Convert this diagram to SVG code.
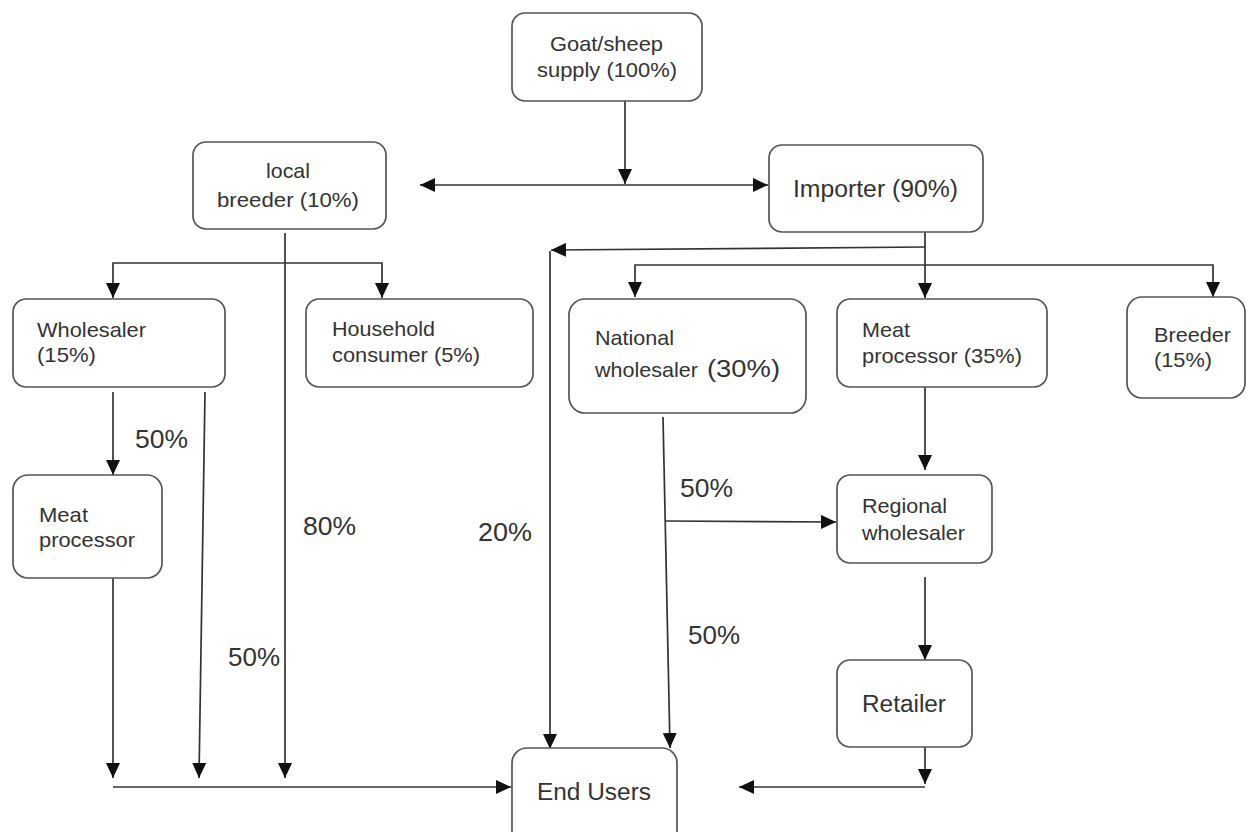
<svg xmlns="http://www.w3.org/2000/svg" width="1246" height="832" viewBox="0 0 1246 832">
  <style>
    .box { fill: #ffffff; stroke: #555555; stroke-width: 1.7; }
    .t { font-family: "Liberation Sans", Arial, sans-serif; font-size: 21px; fill: #333333; }
    .big { font-size: 23px; }
    .lbl { font-family: "Liberation Sans", Arial, sans-serif; font-size: 26px; fill: #333333; }
    .wire { fill: none; stroke: #333333; stroke-width: 1.7; }
  </style>
  <defs>
    <marker id="arrow" markerUnits="userSpaceOnUse" markerWidth="15" markerHeight="14" refX="15" refY="7" orient="auto-start-reverse">
      <path d="M0,0 L15,7 L0,14 Z" fill="#111111"/>
    </marker>
  </defs>
  <rect width="1246" height="832" fill="#ffffff"/>

  <!-- connectors -->
  <g id="connectors">
    <path class="wire" d="M625,101 V184" marker-end="url(#arrow)"/>
    <path class="wire" d="M420,185 H768" marker-start="url(#arrow)" marker-end="url(#arrow)"/>
    <path class="wire" d="M285,233 V778" marker-end="url(#arrow)"/>
    <path class="wire" d="M113,298 V263 H382 V298" marker-start="url(#arrow)" marker-end="url(#arrow)"/>
    <path class="wire" d="M113,392 V475" marker-end="url(#arrow)"/>
    <path class="wire" d="M205,392 L199,778" marker-end="url(#arrow)"/>
    <path class="wire" d="M113,578 V778" marker-end="url(#arrow)"/>
    <path class="wire" d="M113,787 H511" marker-end="url(#arrow)"/>
    <path class="wire" d="M925,232 V298" marker-end="url(#arrow)"/>
    <path class="wire" d="M925,247 L551,250" marker-end="url(#arrow)"/>
    <path class="wire" d="M550,251 V749" marker-end="url(#arrow)"/>
    <path class="wire" d="M635,297 V265 H1213 V297" marker-start="url(#arrow)" marker-end="url(#arrow)"/>
    <path class="wire" d="M663,417 L670,748" marker-end="url(#arrow)"/>
    <path class="wire" d="M666,521 L836,522" marker-end="url(#arrow)"/>
    <path class="wire" d="M925,387 V470" marker-end="url(#arrow)"/>
    <path class="wire" d="M925,577 V660" marker-end="url(#arrow)"/>
    <path class="wire" d="M925,747 V784" marker-end="url(#arrow)"/>
    <path class="wire" d="M925,787 H739" marker-end="url(#arrow)"/>
  </g>

  <!-- flow shares -->
  <g id="shares">
    <text class="lbl" x="135" y="448" textLength="53" lengthAdjust="spacingAndGlyphs">50%</text>
    <text class="lbl" x="303" y="535" textLength="53" lengthAdjust="spacingAndGlyphs">80%</text>
    <text class="lbl" x="228" y="666" textLength="52" lengthAdjust="spacingAndGlyphs">50%</text>
    <text class="lbl" x="478" y="541" textLength="54" lengthAdjust="spacingAndGlyphs">20%</text>
    <text class="lbl" x="680" y="497" textLength="53" lengthAdjust="spacingAndGlyphs">50%</text>
    <text class="lbl" x="688" y="644" textLength="52" lengthAdjust="spacingAndGlyphs">50%</text>
  </g>

  <g id="supply">
    <rect class="box" x="512" y="13" width="190" height="88" rx="13"/>
    <text class="t" x="550" y="51" textLength="113" lengthAdjust="spacingAndGlyphs">Goat/sheep</text>
    <text class="t" x="537" y="77" textLength="140" lengthAdjust="spacingAndGlyphs">supply (100%)</text>
  </g>

  <g id="local-breeder">
    <rect class="box" x="193" y="142" width="193" height="87" rx="13"/>
    <text class="t" x="266" y="178" textLength="44" lengthAdjust="spacingAndGlyphs">local</text>
    <text class="t" x="217" y="207" textLength="142" lengthAdjust="spacingAndGlyphs">breeder (10%)</text>
  </g>

  <g id="importer">
    <rect class="box" x="769" y="145" width="214" height="87" rx="13"/>
    <text class="t big" x="793" y="197" textLength="165" lengthAdjust="spacingAndGlyphs">Importer (90%)</text>
  </g>

  <g id="wholesaler">
    <rect class="box" x="13" y="299" width="212" height="88" rx="13"/>
    <text class="t" x="37" y="337" textLength="109" lengthAdjust="spacingAndGlyphs">Wholesaler</text>
    <text class="t" x="37" y="362" textLength="59" lengthAdjust="spacingAndGlyphs">(15%)</text>
  </g>

  <g id="household-consumer">
    <rect class="box" x="306" y="299" width="227" height="88" rx="13"/>
    <text class="t" x="332" y="336" textLength="103" lengthAdjust="spacingAndGlyphs">Household</text>
    <text class="t" x="332" y="362" textLength="148" lengthAdjust="spacingAndGlyphs">consumer (5%)</text>
  </g>

  <g id="national-wholesaler">
    <rect class="box" x="569" y="299" width="237" height="114" rx="16"/>
    <text class="t" x="595" y="345" textLength="79" lengthAdjust="spacingAndGlyphs">National</text>
    <text class="t" x="595" y="377" textLength="103" lengthAdjust="spacingAndGlyphs">wholesaler</text>
    <text class="t big" x="707" y="377" textLength="73" lengthAdjust="spacingAndGlyphs">(30%)</text>
  </g>

  <g id="meat-processor-35">
    <rect class="box" x="837" y="299" width="210" height="88" rx="13"/>
    <text class="t" x="862" y="337" textLength="48" lengthAdjust="spacingAndGlyphs">Meat</text>
    <text class="t" x="862" y="363" textLength="160" lengthAdjust="spacingAndGlyphs">processor (35%)</text>
  </g>

  <g id="breeder">
    <rect class="box" x="1127" y="297" width="118" height="101" rx="15"/>
    <text class="t" x="1154" y="342" textLength="77" lengthAdjust="spacingAndGlyphs">Breeder</text>
    <text class="t" x="1154" y="367" textLength="58" lengthAdjust="spacingAndGlyphs">(15%)</text>
  </g>

  <g id="meat-processor">
    <rect class="box" x="13" y="475" width="149" height="103" rx="15"/>
    <text class="t" x="39" y="522" textLength="49" lengthAdjust="spacingAndGlyphs">Meat</text>
    <text class="t" x="39" y="547" textLength="96" lengthAdjust="spacingAndGlyphs">processor</text>
  </g>

  <g id="regional-wholesaler">
    <rect class="box" x="837" y="475" width="155" height="88" rx="13"/>
    <text class="t" x="862" y="513" textLength="85" lengthAdjust="spacingAndGlyphs">Regional</text>
    <text class="t" x="862" y="540" textLength="103" lengthAdjust="spacingAndGlyphs">wholesaler</text>
  </g>

  <g id="retailer">
    <rect class="box" x="837" y="660" width="135" height="87" rx="13"/>
    <text class="t big" x="862" y="712" textLength="84" lengthAdjust="spacingAndGlyphs">Retailer</text>
  </g>

  <g id="end-users">
    <rect class="box" x="512" y="748" width="165" height="100" rx="15"/>
    <text class="t big" x="537" y="800" textLength="114" lengthAdjust="spacingAndGlyphs">End Users</text>
  </g>
</svg>
